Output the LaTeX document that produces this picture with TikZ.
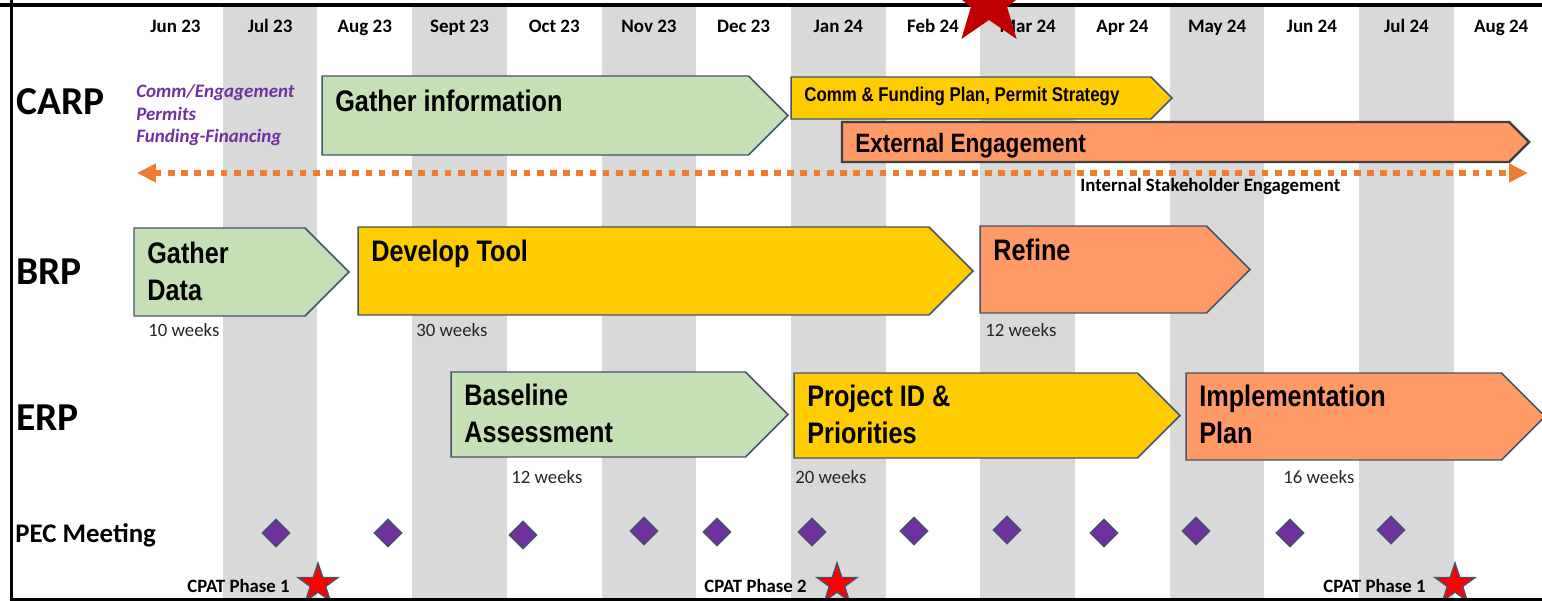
\documentclass[tikz,border=0pt]{standalone}
\usepackage{fontspec}
\setmainfont{Carlito}
\newfontfamily\narrowfont{Liberation Sans}[FakeStretch=0.85]
\usetikzlibrary{shapes.geometric,arrows.meta}

\definecolor{stripe}{HTML}{D9D9D9}
\definecolor{gathergreen}{HTML}{C5E0B4}
\definecolor{toolyellow}{HTML}{FFCC00}
\definecolor{refineorange}{HTML}{FF9966}
\definecolor{edgeslate}{HTML}{44546A}
\definecolor{commpurple}{HTML}{7030A0}
\definecolor{dotorange}{HTML}{ED7D31}
\definecolor{weekgray}{HTML}{262626}
\definecolor{stardark}{HTML}{C00000}

% phase arrow: name, left, tip, top, bottom, style, text, baseline of last text line
\newcommand{\phasebox}[8]{%
  \draw[phase, #6] (#2,#4) -- ({#3-(#5-#4)/2},#4) -- (#3,{(#4+#5)/2})
    -- ({#3-(#5-#4)/2},#5) -- (#2,#5) -- cycle;
  \node[boxtext] (#1) at ({#2+13},#8) {#7};}

\begin{document}
\begin{tikzpicture}[x=0.02cm, y=-0.02cm]

    \tikzset{phase/.style={%
      draw=edgeslate,%
      line width=0.85pt,%
      line join=miter}%
    };
    \tikzset{boxtext/.style={inner sep=0pt, anchor=base west, align=left,
      font=\narrowfont\bfseries\fontsize{16.9}{20.9}\selectfont}};
    \tikzset{month/.style={inner sep=0pt, anchor=base, font=\bfseries\fontsize{10.8}{13}\selectfont}};
    \tikzset{rowlabel/.style={inner sep=0pt, anchor=base west, font=\bfseries\fontsize{22.5}{27}\selectfont}};
    \tikzset{note/.style={inner sep=0pt, anchor=base west, font=\bfseries\fontsize{10.7}{13}\selectfont}};
    \tikzset{weeks/.style={inner sep=0pt, anchor=base west, text=weekgray, font=\fontsize{10.7}{13}\selectfont}};
    \tikzset{pec/.style={diamond, inner sep=0pt, minimum size=0.56cm, fill=commpurple, draw=edgeslate, line width=0.8pt}};
    \tikzset{cpatstar/.style={star, star points=5, star point ratio=2.6, inner sep=0pt,
      minimum size=0.84cm, fill=red, draw=edgeslate, line width=0.8pt}};

    \useasboundingbox (0,0) rectangle (1542,601);
    \clip (0,0) rectangle (1542,601);

    %%%%%%%%%%%%%%%
    %  months     %
    %%%%%%%%%%%%%%%
    \foreach \i in {1,3,...,13}
      \fill[stripe] ({128+94.7*\i},5) rectangle ({128+94.7*(\i+1)},598);
    \foreach \m [count=\i from 0] in {Jun 23, Jul 23, Aug 23, Sept 23, Oct 23, Nov 23, Dec 23,
        Jan 24, Feb 24, Mar 24, Apr 24, May 24, Jun 24, Jul 24, Aug 24}
      \node[month] (m\i) at ({175.4+94.7*\i},33) {\m};

    %%%%%%%%%%%%%%%
    %  CARP       %
    %%%%%%%%%%%%%%%
    \node[rowlabel] (carp) at (16,115) {CARP};
    \node[note, text=commpurple, align=left, font=\bfseries\itshape\fontsize{10.8}{13}\selectfont]
      (topics) at (136,143) {Comm/Engagement\\Permits\\Funding-Financing};
    \phasebox{gi}{322}{788}{76}{155}{fill=gathergreen}{Gather information}{112}
    \phasebox{cfp}{791}{1172}{77}{119}{fill=toolyellow}{\fontsize{11.3}{13}\selectfont Comm \& Funding Plan, Permit Strategy}{102}
    \phasebox{ee}{842}{1529}{122}{162}{fill=refineorange, draw=black!75, line width=1.4pt}{\fontsize{15.1}{18}\selectfont External Engagement}{153}
    \coordinate (isel) at (137,173);
    \coordinate (iser) at (1528,173);
    \draw[dotorange, line width=3.4pt, dash pattern=on 3.8pt off 3.7pt,
      {Triangle[length=10.8pt, width=10.2pt]}-{Triangle[length=10.8pt, width=10.2pt]}] (isel) -- (iser);
    \node[note] (ise) at (1080,192) {Internal Stakeholder Engagement};

    %%%%%%%%%%%%%%%
    %  BRP        %
    %%%%%%%%%%%%%%%
    \node[rowlabel] (brp) at (16,285) {BRP};
    \phasebox{gd}{134}{349}{228}{316}{fill=gathergreen}{Gather\\Data}{300}
    \phasebox{dt}{358}{973}{227}{315}{fill=toolyellow}{Develop Tool}{262}
    \phasebox{rf}{980}{1250}{226}{313}{fill=refineorange}{Refine}{261}
    \node[weeks] (gdw) at (148,337) {10 weeks};
    \node[weeks] (dtw) at (416,337) {30 weeks};
    \node[weeks] (rfw) at (985,337) {12 weeks};

    %%%%%%%%%%%%%%%
    %  ERP        %
    %%%%%%%%%%%%%%%
    \node[rowlabel] (erp) at (16,430) {ERP};
    \phasebox{ba}{451}{788}{372}{457}{fill=gathergreen}{Baseline\\Assessment}{442}
    \phasebox{pid}{794}{1180}{373}{458}{fill=toolyellow}{Project ID \&\\Priorities}{443}
    \phasebox{ip}{1186}{1545}{373}{460}{fill=refineorange}{Implementation\\Plan}{443}
    \node[weeks] (baw) at (511,483) {12 weeks};
    \node[weeks] (pidw) at (795,483) {20 weeks};
    \node[weeks] (ipw) at (1283,483) {16 weeks};

    %%%%%%%%%%%%%%%
    %  PEC / CPAT %
    %%%%%%%%%%%%%%%
    \node[rowlabel, font=\bfseries\fontsize{15.3}{18}\selectfont] (pecl) at (15,542) {PEC Meeting};
    \foreach \x/\y [count=\k] in {276/533, 388/533, 523/535, 644/531, 717/532, 812/532,
        914/531, 1007/530, 1104/533, 1196/531, 1290/533, 1391/530}
      \node[pec] (pec\k) at (\x,\y) {};
    \node[note] (cp1) at (187,592) {CPAT Phase 1};
    \node[note] (cp2) at (704,592) {CPAT Phase 2};
    \node[note] (cp3) at (1323,592) {CPAT Phase 1};
    \node[cpatstar] (st1) at (318,584) {};
    \node[cpatstar] (st2) at (837,584) {};
    \node[cpatstar] (st3) at (1455,584) {};

    % frame
    \draw[line width=2.3pt] (0,4.7) -- (1542,4.7);
    \draw[line width=1.6pt] (11.3,0) -- (11.3,601);
    \draw[line width=1.5pt] (11.3,599.5) -- (1542,599.5);
    \node[star, star points=5, star point ratio=2.47, inner sep=0pt, minimum size=1.88cm,
      fill=stardark] (topstar) at (989,1) {};

  \end{tikzpicture}
\end{document}
